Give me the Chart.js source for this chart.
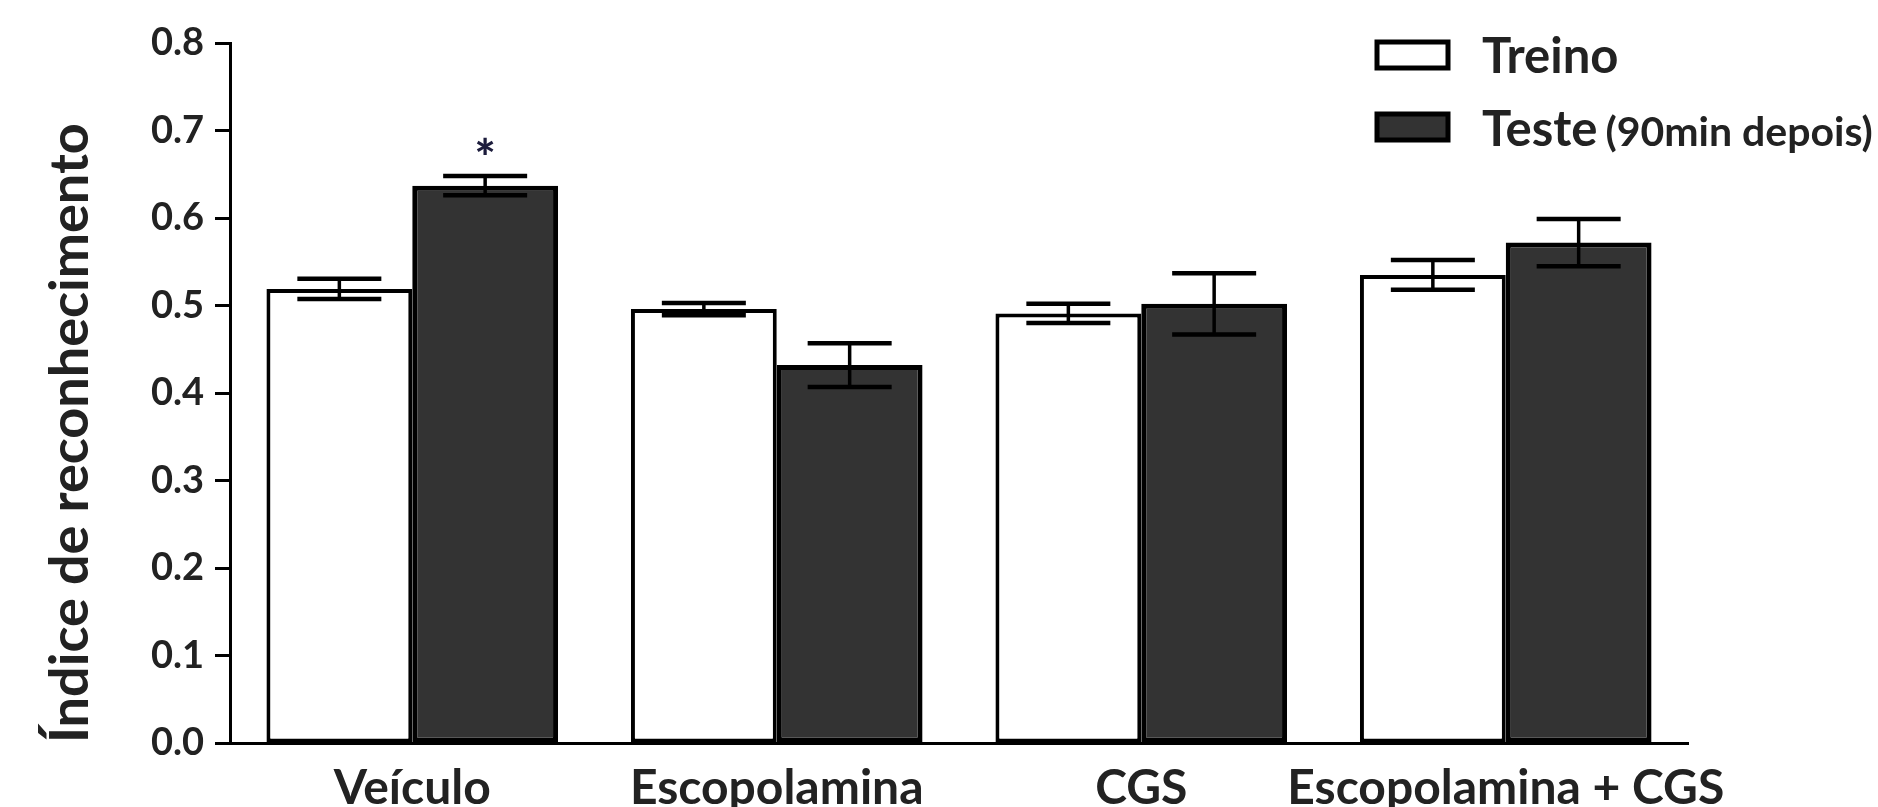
<!DOCTYPE html>
<html>
<head>
<meta charset="utf-8">
<script src="https://cdn.jsdelivr.net/npm/chart.js@4.4.0/dist/chart.umd.min.js"></script>
<style>
  html, body { margin: 0; padding: 0; background: #fff; overflow: hidden; }
  canvas { display: block; }
</style>
</head>
<body>
<canvas id="barChart" width="1878" height="807"></canvas>
<script>
// data
var categories = ['Veículo', 'Escopolamina', 'CGS', 'Escopolamina + CGS'];
var treino = [0.519, 0.496, 0.491, 0.535];
var treinoErr = [0.0115, 0.007, 0.011, 0.017];
var teste = [0.637, 0.432, 0.502, 0.572];
var testeErr = [0.011, 0.025, 0.035, 0.027];
var testeMarks = ['*', '', '', ''];
var yTickValues = [0, 0.1, 0.2, 0.3, 0.4, 0.5, 0.6, 0.7, 0.8];

var textColor = '#222222';
var fontName = 'Lato';

// error bars + significance stars drawn from the scales
var errorBarPlugin = {
    id: 'errorBars',
    afterDatasetsDraw: function (chart) {
        var ctx = chart.ctx;
        var yScale = chart.scales.y;
        chart.data.datasets.forEach(function (ds, i) {
            var meta = chart.getDatasetMeta(i);
            meta.data.forEach(function (bar, j) {
                var v = ds.data[j];
                var e = ds.errors[j];
                var yTop = yScale.getPixelForValue(v + e);
                var yBot = yScale.getPixelForValue(v - e);
                var half = 42;
                ctx.save();
                ctx.strokeStyle = '#000';
                ctx.lineWidth = 3.5;
                ctx.beginPath();
                ctx.moveTo(bar.x, yTop);
                ctx.lineTo(bar.x, yBot);
                ctx.stroke();
                ctx.lineWidth = 4.5;
                ctx.beginPath();
                ctx.moveTo(bar.x - half, yTop);
                ctx.lineTo(bar.x + half, yTop);
                ctx.moveTo(bar.x - half, yBot);
                ctx.lineTo(bar.x + half, yBot);
                ctx.stroke();
                if (ds.marks && ds.marks[j]) {
                    ctx.fillStyle = '#1c1c3c';
                    ctx.font = '900 50px ' + fontName;
                    ctx.textAlign = 'center';
                    ctx.textBaseline = 'alphabetic';
                    ctx.fillText(ds.marks[j], bar.x, yTop);
                }
                ctx.restore();
            });
        });
    }
};

// legend in the top right corner
var legendPlugin = {
    id: 'cornerLegend',
    afterDraw: function (chart) {
        var ctx = chart.ctx;
        var rows = [{ y: 40, base: 73 }, { y: 112, base: 146 }];
        chart.data.datasets.forEach(function (ds, i) {
            var r = rows[i];
            ctx.save();
            ctx.fillStyle = ds.backgroundColor;
            ctx.fillRect(1377, r.y + 2, 71, 26);
            ctx.strokeStyle = '#000';
            ctx.lineWidth = 5;
            ctx.strokeRect(1377, r.y + 2, 71, 26);

            var parts = ds.label.split(' (');
            ctx.fillStyle = textColor;
            ctx.textAlign = 'left';
            ctx.textBaseline = 'alphabetic';
            ctx.font = 'bold 49px ' + fontName;
            ctx.fillText(parts[0], 1482, r.base);
            if (parts.length > 1) {
                var w = ctx.measureText(parts[0]).width;
                ctx.font = 'bold 41px ' + fontName;
                ctx.fillText('(' + parts[1], 1482 + w + 8, r.base);
            }
            ctx.restore();
        });
    }
};

function createChart() {
    var barChart = new Chart(document.getElementById('barChart'), {
        type: 'bar',
        data: {
            labels: categories,
            datasets: [{
                label: 'Treino',
                data: treino,
                errors: treinoErr,
                backgroundColor: '#ffffff',
                borderColor: '#000000',
                borderWidth: 4,
                borderSkipped: false
            }, {
                label: 'Teste (90min depois)',
                data: teste,
                errors: testeErr,
                marks: testeMarks,
                backgroundColor: '#333333',
                borderColor: '#000000',
                borderWidth: 5,
                borderSkipped: false
            }]
        },
        options: {
            responsive: false,
            animation: false,
            events: [],
            categoryPercentage: 0.8,
            barPercentage: 1.0,
            layout: { padding: { top: 43, right: 190, left: 0, bottom: 0 } },
            plugins: {
                legend: { display: false },
                tooltip: { enabled: false }
            },
            scales: {
                x: {
                    grid: { display: false, drawTicks: false },
                    border: { display: true, color: '#000', width: 3 },
                    ticks: {
                        color: textColor,
                        padding: 17,
                        maxRotation: 0,
                        autoSkip: false,
                        font: { family: fontName, size: 48, weight: 'bold' }
                    },
                    afterFit: function (scale) { scale.height = 64; }
                },
                y: {
                    min: 0,
                    max: 0.8,
                    afterBuildTicks: function (scale) {
                        scale.ticks = yTickValues.map(function (v) { return { value: v }; });
                    },
                    grid: {
                        drawOnChartArea: false,
                        drawTicks: true,
                        tickLength: 15,
                        tickWidth: 3,
                        tickColor: '#000'
                    },
                    border: { display: true, color: '#000', width: 3 },
                    ticks: {
                        color: textColor,
                        padding: 11,
                        font: { family: fontName, size: 38, weight: 'bold' },
                        callback: function (v) { return Number(v).toFixed(1); }
                    },
                    title: {
                        display: true,
                        text: 'Índice de reconhecimento',
                        align: 'start',
                        color: textColor,
                        padding: { top: 38, bottom: 0 },
                        font: { family: fontName, size: 54, weight: 'bold' }
                    },
                    afterFit: function (scale) { scale.width = 230; }
                }
            }
        },
        plugins: [errorBarPlugin, legendPlugin]
    });
}

document.fonts.load('bold 40px Lato').then(createChart, createChart);
</script>
</body>
</html>
